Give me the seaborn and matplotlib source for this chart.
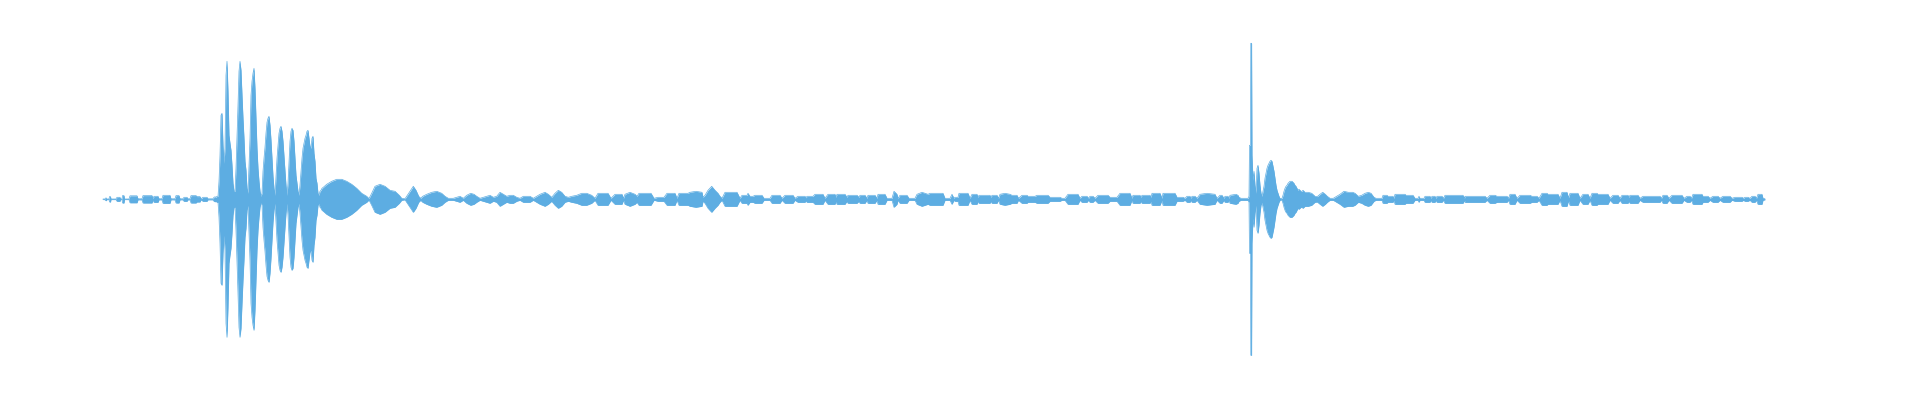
import numpy as np
import matplotlib
matplotlib.use("Agg")
import matplotlib.pyplot as plt
import seaborn as sns
import pandas as pd

# Peak envelope of the recording.
# Each entry is (frame, peak amplitude); the trace is drawn mirrored around zero.
lead_in = [
    (0, 0.3), (2, 0.3), (3, 1.5), (4, 0.3), (6, 0.3), (6.5, 2.7), (7.5, 2.7), (8, 0.3),
    (13, 0.3), (14, 2), (17, 2), (17.5, 0.3), (19, 0.3), (19.5, 3.7), (21, 3.7), (21.5, 0.3),
    (26, 0.3), (27, 3.5), (34, 3.5), (35, 0.5), (39, 0.5), (40, 3.7), (49, 3.7), (50, 0.5),
    (51, 3), (55, 3), (56, 0.5), (59, 0.5), (60, 4), (67, 4), (68, 0.5), (72, 0.5),
    (73, 3.7), (76, 3.7), (77, 0.5), (80, 0.5), (81, 2), (84, 2), (85, 0.5), (87, 0.5),
    (88, 3.7), (93, 3.7), (94, 2.7), (97, 2.7), (98, 0.5), (100, 2), (104, 2), (105, 0.5),
    (110, 0.5), (111, 2), (112, 2.5), (113, 2), (114, 3), (115, 3),
]

first_hit = [
    (116, 18), (117, 44), (118, 84), (119, 86), (120, 54), (121, 36), (122, 51), (123, 124),
    (124, 138), (125, 108), (126, 64), (127, 56), (128, 49), (129, 34), (130, 16), (131, 8),
    (132, 8), (133, 31), (134, 61), (135, 94), (136, 128), (137, 138), (138, 129), (139, 104),
    (140, 81), (141, 61), (142, 38), (143, 29), (144, 11), (145, 6), (146, 34), (147, 61),
    (148, 104), (149, 118), (150, 126), (151, 131), (152, 111), (153, 81), (154, 51),
    (155, 31), (156, 18), (157, 8), (158, 3), (159, 6), (160, 28), (161, 41), (162, 52),
    (163, 66), (164, 77), (165, 81), (166, 83), (167, 74), (168, 59), (169, 41), (170, 23),
    (171, 11), (172, 4), (173, 23), (174, 41), (175, 54), (176, 66), (177, 71), (178, 73),
    (179, 68), (180, 58), (181, 43), (182, 28), (183, 14), (184, 4), (185, 16), (186, 38),
    (187, 58), (188, 68), (189, 71), (190, 69), (191, 58), (192, 41), (193, 24), (194, 16),
    (195, 8), (196, 4), (197, 14), (198, 28), (199, 41), (200, 51), (201, 56), (202, 61),
    (203, 64), (204, 68), (205, 69), (206, 61), (207, 53), (208, 51), (209, 61), (210, 63),
    (211, 46), (212, 38), (213, 21), (214, 16), (215, 6), (216, 4),
]

first_decay = [
    (217, 8), (218, 9), (219, 11), (220.3, 12), (223.7, 15), (228.7, 18), (233.7, 20),
    (238.7, 20), (243.7, 18), (248.7, 15), (253.7, 11), (258.7, 6), (263.7, 3), (266, 0.7),
    (268.7, 6), (272, 13), (277, 15), (282, 13), (287, 9), (292, 8), (296.3, 4), (298.7, 1),
    (302, 0.5), (304.3, 4), (307.7, 9), (310.3, 13), (313, 9), (315.7, 3), (317.7, 1),
    (319.7, 3), (323.7, 5), (328.7, 7), (333.7, 8), (338.7, 6), (342, 3), (345.3, 1),
    (350.3, 1), (353.7, 2), (357, 3), (360.3, 1), (363.7, 4), (367.7, 6), (371, 5),
    (373.7, 3), (377, 1), (380.3, 2), (383.7, 3), (387, 4), (390.3, 2), (393.7, 3), (397, 7),
    (400.3, 5), (403.7, 3), (407, 4), (410.3, 4), (413.7, 2), (417, 1), (420.3, 3),
    (423.7, 3), (427, 3), (430.3, 1), (433.7, 3), (437, 5), (442, 7), (445.3, 5), (448.7, 2),
    (452, 6), (455.3, 9), (458.7, 7), (462, 3), (465.3, 2), (468.7, 3), (473.7, 4),
    (478.7, 6), (483.7, 6), (488.7, 4), (492, 1),
]

middle = [
    (495, 6), (505, 6), (508, 1), (512, 5), (519, 5), (520.5, 1), (522, 5), (527, 7),
    (532, 5), (534, 3), (536, 6), (548, 6), (551, 1), (555, 2), (561, 2), (564, 6), (572, 6),
    (574, 1), (576, 6), (585, 6), (587, 7), (593, 8), (599, 7), (600, 2), (602, 4), (605, 9),
    (608.7, 13), (612, 9), (615, 6), (617, 3), (619, 1), (622, 7), (634, 7), (637, 1),
    (639, 4), (644, 4), (645, 6), (647, 3), (650, 3), (652, 4), (659, 4), (661, 1), (667, 1),
    (669, 4), (677, 4), (679, 1), (682, 4), (690, 4), (692, 1), (695, 3), (702, 3),
    (703, 1.5), (704, 3), (710, 3), (712, 5), (720, 5), (722, 1), (725, 5), (732, 5),
    (733, 2), (734, 5), (742, 5), (744, 2), (745, 4), (754, 4), (756, 2), (757, 4), (762, 4),
    (764, 1), (765, 4), (772, 4), (774, 1), (775, 5), (782, 5), (784, 1), (789, 1), (791, 8),
    (794, 5), (795, 1), (797, 4), (804, 4), (806, 1), (812, 1), (814, 5), (819, 7), (825, 5),
    (827, 6), (840, 6), (842, 1), (847, 1), (849, 5), (851, 1), (852, 2), (855, 2), (856, 6),
    (865, 6), (867, 1), (869, 5), (874, 5), (875, 2), (876, 4), (887, 4), (888, 2), (889, 4),
    (894, 4), (895.5, 1), (897, 5), (902, 6), (907, 5), (909, 4), (914, 4), (915.5, 1),
    (919, 4), (924, 4), (925, 3), (932, 3), (934, 4), (945, 4), (947, 2), (957, 2), (959, 1),
    (962, 1), (965, 5), (975, 5), (977, 1), (979, 3), (984, 3), (985.5, 1), (987, 3),
    (990, 3), (992, 1), (995, 4), (1005, 4), (1007, 2), (1014, 2), (1017, 6), (1027, 6),
    (1029, 1), (1030, 4), (1037, 4), (1038, 2), (1039, 4), (1047, 4), (1048, 2), (1049, 6),
    (1057, 6), (1059, 1), (1060, 6), (1072, 6), (1074, 2), (1080, 2), (1082, 1), (1084, 3),
    (1087, 3), (1088, 1), (1089, 3), (1092, 3), (1094, 1), (1097, 5), (1104, 6), (1112, 5),
    (1114, 1), (1117, 4), (1119, 4), (1121, 1), (1122, 3), (1125, 3), (1126, 1), (1127, 4),
    (1133, 5), (1135, 4), (1136, 2), (1138, 1), (1145, 1),
]

second_hit = [
    (1146, 3), (1146.5, 54), (1147.5, 54), (1147.8, 156), (1148.6, 156), (1149, 44),
    (1150, 19), (1151, 28), (1152, 14), (1153, 6), (1154, 31), (1155, 34), (1156, 26),
    (1157, 14), (1158, 6), (1159, 3), (1160, 8), (1161, 13), (1162, 21), (1163, 26),
    (1164, 31), (1165, 34), (1166, 36), (1167, 38), (1168, 39), (1169, 38), (1170, 33),
    (1171, 28), (1172, 21), (1173, 14), (1174, 9), (1175, 6), (1176, 3), (1177, 1),
    (1178, 0.5), (1179, 1), (1180, 4), (1181, 8), (1182, 11), (1183, 13), (1184, 14),
    (1185, 16), (1186, 17), (1187, 18), (1188, 18), (1189, 18), (1190, 17), (1191, 16),
    (1192, 14), (1193, 13), (1194, 11), (1195, 9), (1196, 10), (1197, 9), (1198, 8),
    (1199, 8), (1200, 9), (1202, 7), (1205.3, 7), (1208.7, 6), (1212, 3), (1214.3, 2.7),
    (1217, 5), (1219.7, 7), (1222.3, 5), (1224.3, 3), (1227, 1), (1230.3, 1), (1233.7, 3),
    (1237, 5), (1241, 8), (1245.3, 7), (1249.7, 7), (1252, 6), (1255.3, 3), (1258.7, 4),
    (1262, 6), (1265.3, 7), (1268, 6), (1271, 2),
]

tail = [
    (1273, 1), (1279, 1), (1280, 4), (1284, 4), (1285, 3), (1290, 3), (1291, 1), (1292, 5),
    (1302, 5), (1303, 4), (1310, 4), (1312, 1), (1315, 1), (1316, 3), (1317, 1), (1321, 1),
    (1322, 3), (1327, 3), (1328, 1), (1329, 3), (1332, 3), (1333, 1), (1334, 3), (1339, 3),
    (1340.5, 1), (1342, 4), (1354, 4), (1355, 4), (1360, 4), (1361.5, 1), (1362, 3),
    (1370, 3), (1372, 3), (1382, 3), (1384, 1), (1387, 4), (1392, 4), (1394, 3), (1404, 3),
    (1405.5, 1), (1407, 5), (1412, 5), (1414, 1), (1417, 4), (1427, 4), (1429, 3), (1434, 3),
    (1436, 1), (1439, 6), (1444, 6), (1445, 5), (1455, 5), (1457, 1), (1459, 7), (1464, 7),
    (1465.5, 1.5), (1467, 6), (1475, 6), (1477, 1), (1480, 5), (1485, 5), (1487, 1),
    (1489, 6), (1494, 6), (1495, 5), (1505, 5), (1507, 1), (1510, 4), (1515, 4), (1517, 1),
    (1519, 4), (1525, 4), (1526, 2), (1527, 4), (1535, 4), (1537, 1), (1540, 3), (1545, 3),
    (1547, 3), (1557, 3), (1558.5, 1), (1560, 4), (1564, 4), (1566, 1), (1569, 4), (1579, 4),
    (1581, 1), (1584, 3), (1587, 3), (1588.5, 1), (1590, 5), (1599, 5), (1600, 3), (1605, 3),
    (1607, 1), (1610, 3), (1615, 3), (1617, 1), (1620, 3), (1627, 3), (1629, 1), (1632, 2),
    (1639, 2), (1640.5, 1), (1642, 2), (1645, 2), (1647, 1), (1649, 3), (1652, 3),
    (1653.5, 1), (1655, 5), (1659, 5), (1660, 1), (1662, 0.5),
]

WAVE_COLOR = "#5dade2"

sections = [lead_in, first_hit, first_decay, middle, second_hit, tail]
df = pd.DataFrame([p for s in sections for p in s], columns=["frame", "peak"])
df["trough"] = -df["peak"]

sns.set_theme(style="white")

fig = plt.figure(figsize=(19.2, 4), dpi=100)
ax = fig.add_axes([0, 0, 1, 1])

ax.fill_between(df["frame"], df["trough"], df["peak"], color=WAVE_COLOR, linewidth=0)
sns.lineplot(data=df, x="frame", y="peak", ax=ax, color=WAVE_COLOR, linewidth=0.5,
             estimator=None, sort=False)
sns.lineplot(data=df, x="frame", y="trough", ax=ax, color=WAVE_COLOR, linewidth=0.5,
             estimator=None, sort=False)

# waveform sits in the middle band of the canvas
ax.set_xlim(-103, 1817)
ax.set_ylim(-200.7, 199.3)
ax.axis("off")

fig.savefig("out.png", dpi=100, facecolor="white")
